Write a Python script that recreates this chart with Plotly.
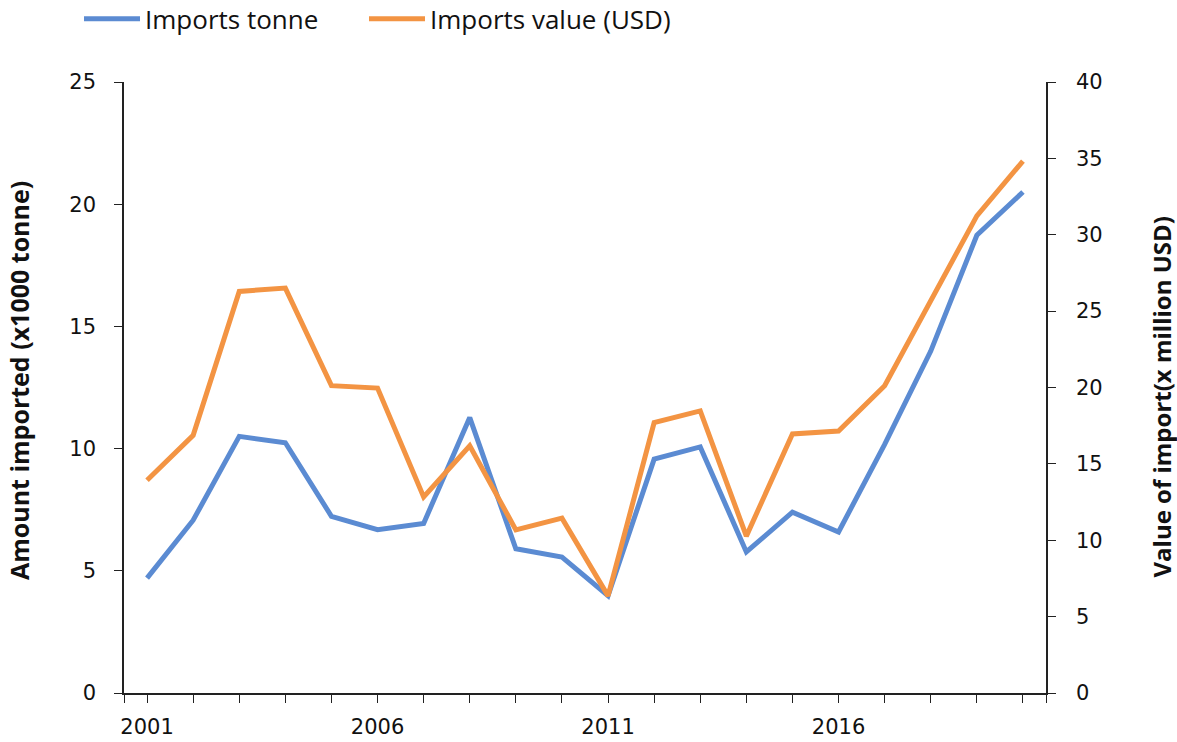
import plotly.graph_objects as go

years = list(range(2001, 2021))
imports_tonne = [4.70, 7.07, 10.50, 10.24, 7.23, 6.68, 6.94, 11.27, 5.90, 5.56,
                 3.98, 9.57, 10.07, 5.77, 7.40, 6.59, 10.17, 13.99, 18.73, 20.50]
imports_value = [13.93, 16.87, 26.29, 26.51, 20.12, 19.96, 12.83, 16.18, 10.68, 11.45,
                 6.36, 17.70, 18.47, 10.27, 16.96, 17.15, 20.12, 25.68, 31.24, 34.82]
label_years = [2001, 2006, 2011, 2016]

BLUE = "#5b8bd2"
ORANGE = "#f39443"
TICKFONT = "DejaVu Sans"
TEXTFONT = "Open Sans"

fig = go.Figure()
fig.add_trace(go.Scatter(x=years, y=imports_tonne, name="Imports tonne", mode="lines",
                         line=dict(color=BLUE, width=5), yaxis="y", legend="legend"))
fig.add_trace(go.Scatter(x=years, y=imports_value, name="Imports value (USD)", mode="lines",
                         line=dict(color=ORANGE, width=5), yaxis="y2", legend="legend2"))

tickvals = [years[0] - 0.5] + years + [years[-1] + 0.5]
ticktext = [""] + [str(y) if y in label_years else "" for y in years] + [""]

axis_common = dict(showgrid=False, zeroline=False, showline=True,
                   linecolor="#222222", linewidth=1.5, ticks="outside",
                   ticklen=8, tickcolor="#222222", automargin=False,
                   tickfont=dict(size=21, family=TICKFONT, color="#111111"))

legend_common = dict(orientation="h", xanchor="left", y=1.142, yanchor="top",
                     font=dict(size=26, family=TEXTFONT, color="#111111"),
                     itemwidth=56, bgcolor="rgba(0,0,0,0)")

fig.update_layout(
    width=1177, height=742,
    margin=dict(l=124, r=131, t=82, b=49, autoexpand=False),
    plot_bgcolor="white", paper_bgcolor="white",
    font=dict(family=TEXTFONT, color="#111111", size=20),
    showlegend=True,
    legend=dict(x=-0.0488, **legend_common),
    legend2=dict(x=0.2603, **legend_common),
    xaxis=dict(range=[years[0] - 0.5, years[-1] + 0.5], tickmode="array",
               tickvals=tickvals, ticktext=ticktext, ticklabelstandoff=6,
               **axis_common),
    yaxis=dict(range=[0, 25], dtick=5, ticklabelstandoff=14, **axis_common),
    yaxis2=dict(range=[0, 40], dtick=5, overlaying="y", side="right",
                ticklabelstandoff=16, **axis_common),
    annotations=[
        dict(text="<b>Amount imported (x1000 tonne)</b>", textangle=-90,
             xref="paper", yref="paper", x=-0.114, y=0.512, showarrow=False,
             xanchor="center", yanchor="middle",
             font=dict(size=25, family=TEXTFONT, color="#111111")),
        dict(text="<b>Value of import(x million USD)</b>", textangle=-90,
             xref="paper", yref="paper", x=1.125, y=0.484, showarrow=False,
             xanchor="center", yanchor="middle",
             font=dict(size=24, family=TEXTFONT, color="#111111")),
    ],
)

fig.write_html("out.html", config={"displayModeBar": False},
               post_script="document.body.style.margin='0';")
